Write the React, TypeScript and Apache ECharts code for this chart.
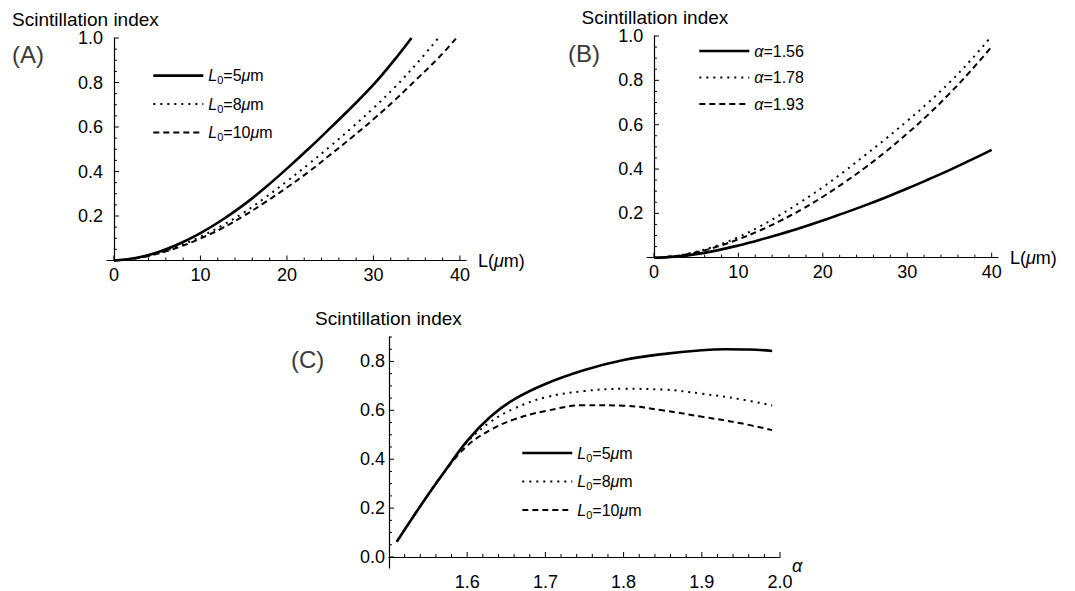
import React, { useEffect, useRef } from 'react';
import * as echarts from 'echarts';

const FONT = "'Liberation Sans', Arimo, Arial, Helvetica, sans-serif";

// ---------- Panel A : scintillation index vs L (three L0) ----------
const aL05_L = [0, 2.5, 5, 7.5, 10, 12.5, 15, 17.5, 20, 22.5, 25, 27.5, 30, 32.5, 34.4];
const aL05_S = [0, 0.011, 0.036, 0.074, 0.123, 0.182, 0.25, 0.328, 0.413, 0.502, 0.595, 0.69, 0.79, 0.905, 1.0];
const aL08_L = [0, 2.5, 5, 7.5, 10, 12.5, 15, 17.5, 20, 22.5, 25, 27.5, 30, 32.5, 35, 37.5];
const aL08_S = [0, 0.01, 0.032, 0.065, 0.107, 0.157, 0.215, 0.283, 0.356, 0.433, 0.513, 0.597, 0.685, 0.78, 0.885, 1.0];
const aL10_L = [0, 2.5, 5, 7.5, 10, 12.5, 15, 17.5, 20, 22.5, 25, 27.5, 30, 32.5, 35, 37.5, 39.6];
const aL10_S = [0, 0.009, 0.03, 0.06, 0.099, 0.145, 0.2, 0.262, 0.328, 0.398, 0.475, 0.553, 0.635, 0.722, 0.815, 0.91, 1.0];

// ---------- Panel B : scintillation index vs L (three alpha) ----------
const bL = [0, 2.5, 5, 7.5, 10, 12.5, 15, 17.5, 20, 22.5, 25, 27.5, 30, 32.5, 35, 37.5, 40];
const bA156_S = [0, 0.005, 0.016, 0.033, 0.055, 0.08, 0.107, 0.136, 0.168, 0.201, 0.236, 0.273, 0.312, 0.353, 0.395, 0.44, 0.486];
const bA178_S = [0, 0.008, 0.027, 0.055, 0.093, 0.14, 0.194, 0.254, 0.318, 0.388, 0.462, 0.538, 0.617, 0.7, 0.79, 0.89, 1.0];
const bA193_S = [0, 0.007, 0.024, 0.05, 0.083, 0.122, 0.167, 0.218, 0.275, 0.338, 0.406, 0.48, 0.56, 0.646, 0.74, 0.842, 0.952];

// ---------- Panel C : scintillation index vs alpha (three L0) ----------
const cL05_A = [1.51, 1.53, 1.55, 1.57, 1.6, 1.63, 1.66, 1.7, 1.75, 1.8, 1.85, 1.9, 1.93, 1.96, 1.99];
const cL05_S = [0.063, 0.16, 0.255, 0.345, 0.475, 0.575, 0.645, 0.708, 0.765, 0.806, 0.83, 0.846, 0.85, 0.849, 0.843];
const cL08_A = [1.51, 1.53, 1.55, 1.57, 1.6, 1.63, 1.66, 1.7, 1.75, 1.8, 1.85, 1.9, 1.95, 1.99];
const cL08_S = [0.063, 0.16, 0.255, 0.345, 0.47, 0.553, 0.607, 0.653, 0.679, 0.688, 0.685, 0.668, 0.645, 0.62];
const cL10_A = [1.51, 1.53, 1.55, 1.57, 1.6, 1.63, 1.66, 1.7, 1.75, 1.8, 1.85, 1.9, 1.95, 1.99];
const cL10_S = [0.063, 0.16, 0.255, 0.345, 0.455, 0.52, 0.563, 0.597, 0.621, 0.619, 0.6, 0.574, 0.547, 0.519];

// ---------- tick labels ----------
const xTicksAB = [0, 10, 20, 30, 40];
const yTicksAB = [0.2, 0.4, 0.6, 0.8, 1.0];
const xTicksC = [1.6, 1.7, 1.8, 1.9, 2.0];
const yTicksC = [0, 0.2, 0.4, 0.6, 0.8];

const legendText: Record<string, string> = {
  A5: '{i|L}{s|0}{n|=5}{i|μ}{n|m}',
  A8: '{i|L}{s|0}{n|=8}{i|μ}{n|m}',
  A10: '{i|L}{s|0}{n|=10}{i|μ}{n|m}',
  B156: '{i|α}{n|=1.56}',
  B178: '{i|α}{n|=1.78}',
  B193: '{i|α}{n|=1.93}',
  C5: '{i|L}{s|0}{n|=5}{i|μ}{n|m}',
  C8: '{i|L}{s|0}{n|=8}{i|μ}{n|m}',
  C10: '{i|L}{s|0}{n|=10}{i|μ}{n|m}',
};

const pairs = (xs: number[], ys: number[]) => xs.map((x, i) => [x, ys[i]]);
const near = (list: number[], v: number) => list.some((t) => Math.abs(t - v) < 1e-6);
const r6 = (v: number) => Math.round(v * 1e6) / 1e6;

// minor tick values between start and end (inclusive) at a step, skipping major ones
function minorValues(start: number, step: number, count: number, majors: number[]) {
  const out: number[] = [];
  for (let k = 0; k <= count; k++) {
    const v = r6(start + k * step);
    if (!near(majors, v)) out.push(v);
  }
  return out;
}

const SOLID = { type: 'solid', width: 2.6 };
const DOTTED = { type: [2, 5], width: 2 };
const DASHED = { type: [6, 4], width: 2 };

const labelStyle = { color: '#000', fontSize: 18, fontFamily: FONT, lineHeight: 16 };
const BLACK = { color: '#000', width: 1.2 };

function axis(dim: 'x' | 'y', gridIndex: number, min: number, max: number, labels: number[], fmt: (v: number) => string, extra: any = {}) {
  return {
    type: 'value',
    gridIndex,
    min,
    max,
    position: dim === 'x' ? 'bottom' : 'left',
    axisLine: { show: true, onZero: true, lineStyle: BLACK },
    axisTick: { show: false },
    axisLabel: { show: true, customValues: labels, formatter: fmt, margin: dim === 'x' ? 6 : 4, ...labelStyle },
    splitLine: { show: false },
    nameMoveOverlap: false,
    ...extra,
  };
}

function line(name: string, gi: number, data: number[][], ls: any) {
  return {
    type: 'line',
    name,
    xAxisIndex: gi,
    yAxisIndex: gi,
    data,
    symbol: 'none',
    showSymbol: false,
    smooth: 0.4,
    clip: false,
    color: '#000',
    lineStyle: { color: '#000', width: ls.width, type: ls.type, cap: 'butt' },
    itemStyle: { color: '#000' },
    silent: true,
  };
}

// tick marks drawn through the grid's own scales: [value, direction(0=x,1=y), length]
function ticks(gi: number, xBase: number, yBase: number, xMaj: number[], xMin: number[], yMaj: number[], yMin: number[]) {
  const data: number[][] = [];
  xMaj.forEach((v) => data.push([v, 0, 5]));
  xMin.forEach((v) => data.push([v, 0, 3]));
  yMaj.forEach((v) => data.push([v, 1, 5]));
  yMin.forEach((v) => data.push([v, 1, 3]));
  return {
    type: 'custom',
    name: 'ticks' + gi,
    xAxisIndex: gi,
    yAxisIndex: gi,
    silent: true,
    clip: false,
    z: 3,
    data,
    encode: { x: -1, y: -1 },
    renderItem: (_p: any, api: any) => {
      const v = api.value(0);
      const dir = api.value(1);
      const len = api.value(2);
      if (dir === 0) {
        const p = api.coord([v, yBase]);
        return { type: 'line', shape: { x1: p[0], y1: p[1], x2: p[0], y2: p[1] - len }, style: { stroke: '#000', lineWidth: 1 } };
      }
      const p = api.coord([xBase, v]);
      return { type: 'line', shape: { x1: p[0], y1: p[1], x2: p[0] + len, y2: p[1] }, style: { stroke: '#000', lineWidth: 1 } };
    },
  };
}

function legend(names: string[], left: number, top: number) {
  return {
    show: true,
    data: names,
    orient: 'vertical',
    left,
    top,
    padding: 0,
    itemWidth: 50,
    itemHeight: 14,
    itemGap: 10.5,
    itemTextGap: 15,
    selectedMode: false,
    formatter: (n: string) => legendText[n],
    itemStyle: { opacity: 0, borderWidth: 0 },
    lineStyle: { width: 'inherit', type: 'inherit', color: '#000' },
    textStyle: {
      fontSize: 16,
      fontFamily: FONT,
      color: '#000',
      rich: {
        n: { fontSize: 16, fontFamily: FONT, color: '#000', lineHeight: 20 },
        i: { fontSize: 16, fontFamily: FONT, color: '#000', fontStyle: 'italic', lineHeight: 20 },
        s: { fontSize: 11, fontFamily: FONT, color: '#000', verticalAlign: 'bottom' },
      },
    },
  };
}

export default function App() {
  const ref = useRef<HTMLDivElement>(null);
  useEffect(() => {
    if (!ref.current) return;
    const chart = echarts.init(ref.current, null, { renderer: 'svg' });

    const fmtInt = (v: number) => String(Math.round(v));
    const fmt1 = (v: number) => v.toFixed(1);

    const lName = {
      name: 'L({i|μ}m)',
      nameLocation: 'end',
      nameGap: 12,
      nameTextStyle: {
        color: '#000',
        fontSize: 18,
        fontFamily: FONT,
        rich: { i: { fontSize: 18, fontFamily: FONT, color: '#000', fontStyle: 'italic' } },
      },
    };

    const xMinorAB = minorValues(0, 2, 20, xTicksAB);
    const yMinorAB = minorValues(0, 0.05, 20, yTicksAB.concat([0]));
    const xMinorC = minorValues(1.52, 0.02, 23, xTicksC);
    const yMinorC = minorValues(0, 0.05, 18, yTicksC);

    const option: any = {
      animation: false,
      backgroundColor: '#fff',
      color: ['#000'],
      grid: [
        { left: 107, top: 38, width: 359, height: 222.5 },
        { left: 647.2, top: 36, width: 350.8, height: 221.7 },
        { left: 389, top: 337, width: 391, height: 241.5 },
      ],
      xAxis: [
        axis('x', 0, -0.8, 40.7, xTicksAB, fmtInt, lName),
        axis('x', 1, -0.8, 40.75, xTicksAB, fmtInt, lName),
        axis('x', 2, 1.5, 2.0, xTicksC, fmt1),
      ],
      yAxis: [
        axis('y', 0, 0, 1.0, yTicksAB, fmt1),
        axis('y', 1, 0, 1.0, yTicksAB, fmt1),
        axis('y', 2, -0.045, 0.9, yTicksC, fmt1),
      ],
      legend: [
        legend(['A5', 'A8', 'A10'], 152, 67.6),
        legend(['B156', 'B178', 'B193'], 698, 43),
        legend(['C5', 'C8', 'C10'], 521, 445),
      ],
      series: [
        ticks(0, 0, 0, xTicksAB, xMinorAB, yTicksAB, yMinorAB),
        ticks(1, 0, 0, xTicksAB, xMinorAB, yTicksAB, yMinorAB),
        ticks(2, 1.5, 0, xTicksC, xMinorC, yTicksC, yMinorC),
        line('A5', 0, pairs(aL05_L, aL05_S), SOLID),
        line('A8', 0, pairs(aL08_L, aL08_S), DOTTED),
        line('A10', 0, pairs(aL10_L, aL10_S), DASHED),
        line('B156', 1, pairs(bL, bA156_S), SOLID),
        line('B178', 1, pairs(bL, bA178_S), DOTTED),
        line('B193', 1, pairs(bL, bA193_S), DASHED),
        line('C5', 2, pairs(cL05_A, cL05_S), SOLID),
        line('C8', 2, pairs(cL08_A, cL08_S), DOTTED),
        line('C10', 2, pairs(cL10_A, cL10_S), DASHED),
      ],
      graphic: [
        { type: 'text', x: 12, y: 19.5, style: { text: 'Scintillation index', font: `19px ${FONT}`, fill: '#000', verticalAlign: 'middle' } },
        { type: 'text', x: 581.5, y: 17.5, style: { text: 'Scintillation index', font: `19px ${FONT}`, fill: '#000', verticalAlign: 'middle' } },
        { type: 'text', x: 315, y: 318.3, style: { text: 'Scintillation index', font: `19px ${FONT}`, fill: '#000', verticalAlign: 'middle' } },
        { type: 'text', x: 12, y: 54, style: { text: '(A)', font: `24px ${FONT}`, fill: '#3a3a3a', verticalAlign: 'middle' } },
        { type: 'text', x: 568, y: 53, style: { text: '(B)', font: `24px ${FONT}`, fill: '#3a3a3a', verticalAlign: 'middle' } },
        { type: 'text', x: 291, y: 359, style: { text: '(C)', font: `24px ${FONT}`, fill: '#3a3a3a', verticalAlign: 'middle' } },
        // x-axis name of panel C, just past the axis end
        { type: 'text', x: 792, y: 566, style: { text: 'α', font: `italic 18px ${FONT}`, fill: '#000', verticalAlign: 'middle' } },
      ],
    };
    chart.setOption(option);
    return () => chart.dispose();
  }, []);

  return (
    <div
      ref={ref}
      style={{ position: 'absolute', left: 0, top: 0, width: 1075, height: 591, background: '#fff' }}
    />
  );
}
